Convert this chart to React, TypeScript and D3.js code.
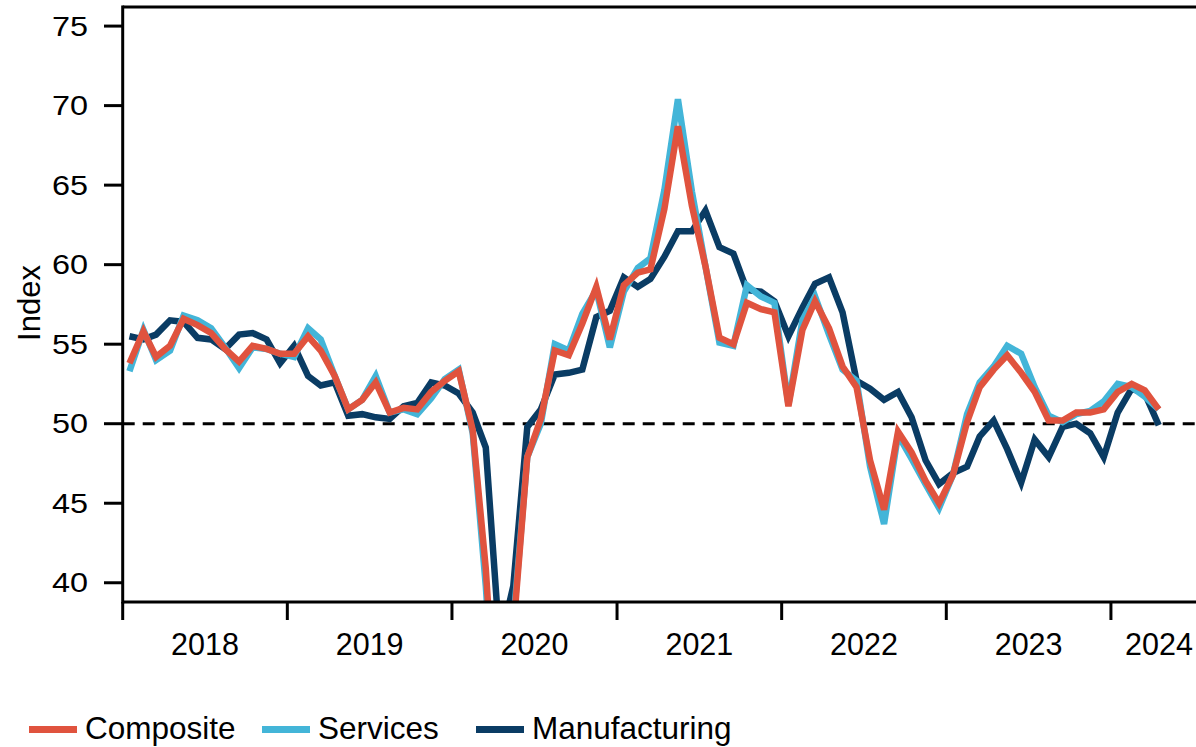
import { line, scaleLinear, scaleTime } from 'd3'

// Monthly PMI readings, Jan 2018 to Apr 2024
const startYear = 2018
const yearLabels = ['2018', '2019', '2020', '2021', '2022', '2023', '2024']
const yTicks = [40, 45, 50, 55, 60, 65, 70, 75]

const composite = [
  53.8, 55.8, 54.2, 54.9, 56.6, 56.2, 55.7, 54.7, 53.9, 54.9, 54.7, 54.4,
  54.4, 55.5, 54.6, 53.0, 50.9, 51.5, 52.6, 50.7, 51.0, 50.9, 52.0, 52.7,
  53.3, 49.6, 40.9, 27.0, 37.0, 47.9, 50.3, 54.6, 54.3, 56.3, 58.6, 55.3,
  58.7, 59.5, 59.7, 63.5, 68.7, 63.7, 59.9, 55.4, 55.0, 57.6, 57.2, 57.0,
  51.1, 55.9, 57.7, 56.0, 53.6, 52.3, 47.7, 44.6, 49.5, 48.2, 46.4, 45.0,
  46.8, 50.1, 52.3, 53.4, 54.3, 53.2, 52.0, 50.2, 50.2, 50.7, 50.7, 50.9,
  52.0, 52.5, 52.1, 50.9,
]

const services = [
  53.3, 55.9, 54.0, 54.6, 56.8, 56.5, 56.0, 54.8, 53.5, 54.8, 54.7, 54.4,
  54.2, 56.0, 55.3, 53.0, 50.9, 51.5, 53.0, 50.7, 50.9, 50.6, 51.6, 52.8,
  53.4, 49.4, 39.8, 26.7, 37.5, 47.9, 50.0, 55.0, 54.6, 56.9, 58.4, 54.8,
  58.3, 59.8, 60.4, 64.7, 70.4, 64.6, 59.9, 55.1, 54.9, 58.7, 58.0, 57.6,
  51.2, 56.5, 58.0, 55.6, 53.4, 52.7, 47.3, 43.7, 49.3, 47.8, 46.2, 44.7,
  46.8, 50.6, 52.6, 53.6, 54.9, 54.4, 52.3, 50.5, 50.1, 50.6, 50.8, 51.4,
  52.5, 52.3, 51.7, 50.9,
]

const manufacturing = [
  55.5, 55.3, 55.6, 56.5, 56.4, 55.4, 55.3, 54.7, 55.6, 55.7, 55.3, 53.8,
  54.9, 53.0, 52.4, 52.6, 50.5, 50.6, 50.4, 50.3, 51.1, 51.3, 52.6, 52.4,
  51.9, 50.7, 48.5, 36.1, 39.8, 49.8, 50.9, 53.1, 53.2, 53.4, 56.7, 57.1,
  59.2, 58.6, 59.1, 60.5, 62.1, 62.1, 63.4, 61.1, 60.7, 58.4, 58.3, 57.7,
  55.5, 57.3, 58.8, 59.2, 57.0, 52.7, 52.2, 51.5, 52.0, 50.4, 47.7, 46.2,
  46.9, 47.3, 49.2, 50.2, 48.4, 46.3, 49.0, 47.9, 49.8, 50.0, 49.4, 47.9,
  50.7, 52.2, 51.9, 49.9,
]

const seriesNames = ['Composite', 'Services', 'Manufacturing']
const colors: Record<string, string> = {
  Composite: '#e0533e',
  Services: '#43b5d8',
  Manufacturing: '#0a3c64',
}

const width = 1196
const height = 747
const plot = { left: 122.7, top: 7, bottom: 602 }
const font = 'Arial, "Liberation Sans", sans-serif'

const monthDate = (i: number) => new Date(startYear, i, 16)

export default function App() {
  const domainEnd = new Date(2024, 7, 1)
  const x = scaleTime()
    .domain([new Date(startYear, 0, 1), domainEnd])
    .range([plot.left, 1207])
  const y = scaleLinear().domain([38.79, 76.2]).range([plot.bottom, plot.top])

  const path = line<number>()
    .x((_, i) => x(monthDate(i)))
    .y((v) => y(v))

  const drawOrder: [string, number[]][] = [
    ['Manufacturing', manufacturing],
    ['Services', services],
    ['Composite', composite],
  ]

  const right = x.range()[1]
  const legendX = [29, 262, 476]

  return (
    <svg
      width={width}
      height={height}
      style={{ position: 'absolute', left: 0, top: 0, background: '#fff' }}
      fontFamily={font}
    >
      <defs>
        <clipPath id="plot-clip">
          <rect
            x={plot.left}
            y={plot.top}
            width={right - plot.left}
            height={plot.bottom - plot.top}
          />
        </clipPath>
      </defs>

      {/* reference line at 50 */}
      <line
        x1={plot.left}
        x2={right}
        y1={y(50)}
        y2={y(50)}
        stroke="#000"
        strokeWidth={3}
        strokeDasharray="12 8"
      />

      <g clipPath="url(#plot-clip)" fill="none">
        {drawOrder.map(([name, values]) => (
          <path
            key={name}
            d={path(values) ?? ''}
            stroke={colors[name]}
            strokeWidth={6.5}
          />
        ))}
      </g>

      {/* frame */}
      <g stroke="#000" strokeWidth={3} fill="none">
        <line x1={plot.left} x2={right} y1={plot.top} y2={plot.top} />
        <line x1={plot.left} x2={right} y1={plot.bottom} y2={plot.bottom} />
        <line x1={plot.left} x2={plot.left} y1={plot.top - 1.5} y2={plot.bottom + 1.5} />
      </g>

      {/* y axis */}
      {yTicks.map((tick) => (
        <g key={tick}>
          <line x1={104} x2={plot.left} y1={y(tick)} y2={y(tick)} stroke="#000" strokeWidth={3} />
          <text
            transform={`translate(88, ${y(tick)}) scale(1.2, 1)`}
            dy="0.35em"
            textAnchor="end"
            fontSize={27}
            fill="#000"
          >
            {tick}
          </text>
        </g>
      ))}
      <text
        transform={`translate(39.5, 303) rotate(-90)`}
        textAnchor="middle"
        fontSize={31}
        fill="#000"
      >
        Index
      </text>

      {/* x axis */}
      {yearLabels.map((label, i) => {
        const start = new Date(startYear + i, 0, 1)
        const next = new Date(startYear + i + 1, 0, 1)
        const end = next < domainEnd ? next : domainEnd
        const cx = (x(start) + x(end)) / 2
        return (
          <g key={label}>
            <line
              x1={x(start)}
              x2={x(start)}
              y1={plot.bottom}
              y2={620}
              stroke="#000"
              strokeWidth={3}
            />
            <text x={cx} y={655} textAnchor="middle" fontSize={30.5} fill="#000">
              {label}
            </text>
          </g>
        )
      })}

      {/* legend */}
      {seriesNames.map((name, i) => (
        <g key={name} transform={`translate(${legendX[i]}, 0)`}>
          <rect x={0} y={726} width={48} height={7} fill={colors[name]} />
          <text x={56} y={739} fontSize={31.5} fill="#000">
            {name}
          </text>
        </g>
      ))}
    </svg>
  )
}
